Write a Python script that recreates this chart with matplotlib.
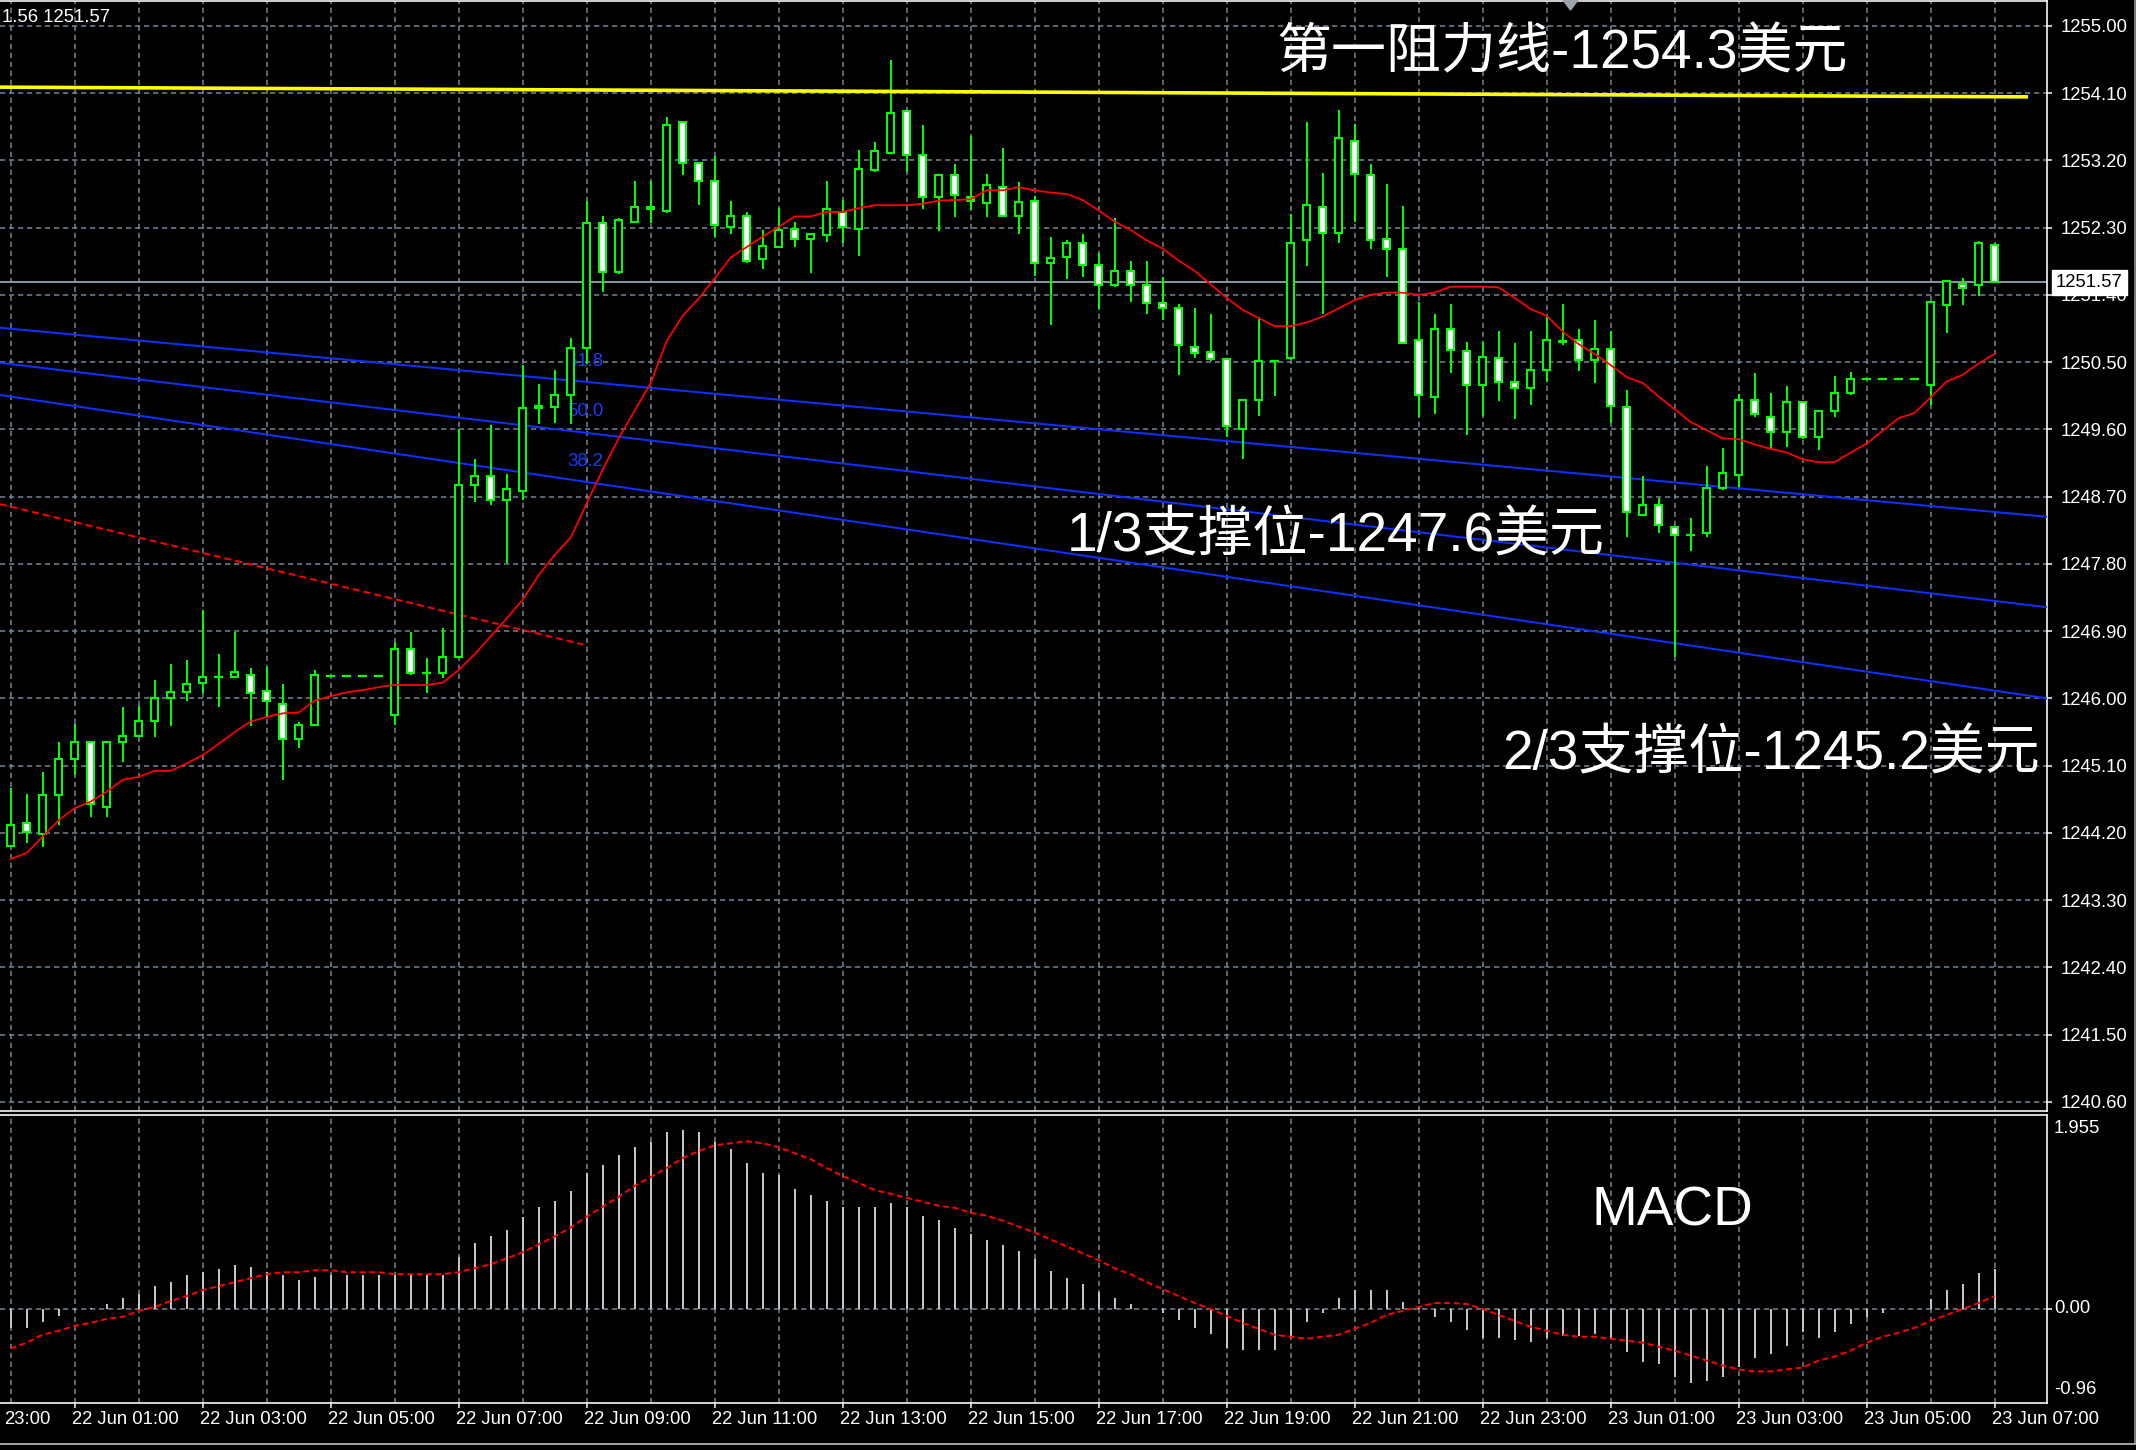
import numpy as np
import pandas as pd
import matplotlib
matplotlib.use("Agg")
import matplotlib.pyplot as plt
from matplotlib.patches import Rectangle, Polygon
from matplotlib.lines import Line2D

W, H, DPI = 2136, 1450, 100


def pt(p):
    """pixels -> points"""
    return p * 72.0 / DPI


plt.rcParams['font.family'] = ['Liberation Sans', 'Noto Sans CJK SC']

# ---------------- XAUUSD M15 bars ----------------
first_bar = "2017-06-22 00:00"

opens = [1244.03, 1244.33, 1244.19, 1244.71, 1245.19, 1245.41, 1244.55, 1245.41, 1245.50, 1245.70,
         1246.00, 1246.08, 1246.20, 1246.29, 1246.28, 1246.31, 1246.10, 1245.93, 1245.45, 1245.64,
         1246.30, 1246.30, 1246.30, 1246.30, 1245.78, 1246.66, 1246.34, 1246.34, 1246.55, 1248.86,
         1248.97, 1248.65, 1248.77, 1249.89, 1249.90, 1250.06, 1250.69, 1252.36, 1251.71, 1252.37,
         1252.55, 1252.52, 1253.71, 1253.17, 1252.92, 1252.31, 1252.45, 1251.88, 1252.04, 1252.28,
         1252.15, 1252.20, 1252.51, 1252.28, 1253.07, 1253.30, 1253.86, 1253.27, 1252.71, 1253.00,
         1252.71, 1252.63, 1252.84, 1252.45, 1252.66, 1251.83, 1251.91, 1252.10, 1251.80, 1251.53,
         1251.72, 1251.53, 1251.29, 1251.22, 1250.70, 1250.63, 1250.54, 1249.61, 1249.99, 1250.52,
         1250.55, 1252.13, 1252.58, 1252.23, 1253.46, 1253.00, 1252.15, 1252.02, 1250.79, 1250.04,
         1250.95, 1250.65, 1250.19, 1250.55, 1250.23, 1250.15, 1250.40, 1250.78, 1250.80, 1250.53,
         1250.68, 1249.90, 1248.45, 1248.59, 1248.30, 1248.19, 1248.21, 1248.81, 1248.99, 1249.99,
         1249.77, 1249.56, 1249.96, 1249.50, 1249.85, 1250.09, 1250.28, 1250.28, 1250.28, 1250.28,
         1250.19, 1251.27, 1251.54, 1251.53, 1252.07]

highs = [1244.80, 1244.72, 1245.01, 1245.41, 1245.66, 1245.43, 1245.41, 1245.88, 1245.90, 1246.25,
         1246.46, 1246.51, 1247.18, 1246.59, 1246.89, 1246.40, 1246.42, 1246.19, 1245.69, 1246.38,
         1246.30, 1246.30, 1246.30, 1246.30, 1246.76, 1246.89, 1246.54, 1246.94, 1249.61, 1249.21,
         1249.66, 1249.00, 1250.46, 1250.21, 1250.40, 1250.82, 1252.65, 1252.46, 1252.43, 1252.92,
         1252.93, 1253.78, 1253.72, 1253.18, 1253.26, 1252.65, 1252.51, 1252.27, 1252.56, 1252.38,
         1252.21, 1252.92, 1252.67, 1253.34, 1253.44, 1254.54, 1253.86, 1253.68, 1253.00, 1253.15,
         1253.53, 1253.02, 1253.36, 1252.91, 1252.72, 1252.18, 1252.13, 1252.21, 1251.96, 1252.43,
         1251.86, 1251.86, 1251.64, 1251.28, 1251.22, 1251.14, 1250.55, 1249.99, 1251.11, 1250.53,
         1252.48, 1253.71, 1253.03, 1253.88, 1253.69, 1253.15, 1252.88, 1252.59, 1251.31, 1251.15,
         1251.28, 1250.77, 1250.77, 1250.91, 1250.75, 1250.91, 1251.13, 1251.28, 1250.95, 1251.07,
         1250.91, 1250.13, 1248.97, 1248.68, 1248.31, 1248.41, 1249.11, 1249.35, 1250.07, 1250.36,
         1250.09, 1250.18, 1249.97, 1249.85, 1250.31, 1250.37, 1250.28, 1250.28, 1250.28, 1250.28,
         1251.30, 1251.59, 1251.62, 1252.12, 1252.09]

lows = [1244.01, 1244.06, 1244.01, 1244.31, 1244.97, 1244.41, 1244.41, 1245.15, 1245.48, 1245.48,
        1245.63, 1245.96, 1246.07, 1245.88, 1246.28, 1245.63, 1245.75, 1244.91, 1245.34, 1245.63,
        1246.30, 1246.30, 1246.30, 1246.30, 1245.64, 1246.31, 1246.07, 1246.27, 1246.55, 1248.63,
        1248.59, 1247.81, 1248.66, 1249.67, 1249.68, 1249.67, 1250.48, 1251.44, 1251.68, 1252.36,
        1252.36, 1252.49, 1253.00, 1252.60, 1252.17, 1252.22, 1251.82, 1251.74, 1252.04, 1252.04,
        1251.69, 1252.11, 1252.09, 1251.92, 1253.05, 1253.30, 1253.04, 1252.55, 1252.25, 1252.44,
        1252.53, 1252.44, 1252.44, 1252.22, 1251.65, 1251.00, 1251.61, 1251.64, 1251.21, 1251.51,
        1251.31, 1251.15, 1251.07, 1250.33, 1250.56, 1250.51, 1249.50, 1249.20, 1249.78, 1250.05,
        1250.53, 1251.79, 1251.14, 1252.09, 1252.38, 1252.01, 1251.64, 1250.75, 1249.77, 1249.81,
        1250.35, 1249.52, 1249.78, 1249.98, 1249.74, 1249.93, 1250.24, 1250.73, 1250.38, 1250.22,
        1249.68, 1248.16, 1248.45, 1248.21, 1246.55, 1247.97, 1248.16, 1248.79, 1248.83, 1249.77,
        1249.32, 1249.36, 1249.47, 1249.32, 1249.77, 1250.06, 1250.28, 1250.28, 1250.28, 1250.28,
        1249.93, 1250.89, 1251.27, 1251.39, 1251.57]

closes = [1244.31, 1244.21, 1244.71, 1245.19, 1245.41, 1244.59, 1245.41, 1245.49, 1245.70, 1246.00,
          1246.08, 1246.19, 1246.29, 1246.29, 1246.35, 1246.07, 1245.97, 1245.45, 1245.64, 1246.31,
          1246.30, 1246.30, 1246.30, 1246.30, 1246.66, 1246.34, 1246.34, 1246.56, 1248.86, 1248.97,
          1248.65, 1248.80, 1249.88, 1249.91, 1250.06, 1250.69, 1252.36, 1251.70, 1252.40, 1252.58,
          1252.57, 1253.68, 1253.16, 1252.92, 1252.34, 1252.45, 1251.85, 1252.05, 1252.27, 1252.15,
          1252.21, 1252.55, 1252.31, 1253.08, 1253.33, 1253.84, 1253.27, 1252.71, 1253.00, 1252.74,
          1252.66, 1252.87, 1252.45, 1252.64, 1251.83, 1251.90, 1252.10, 1251.80, 1251.53, 1251.72,
          1251.53, 1251.29, 1251.22, 1250.73, 1250.62, 1250.54, 1249.64, 1249.99, 1250.52, 1250.52,
          1252.10, 1252.60, 1252.23, 1253.50, 1253.02, 1252.13, 1252.02, 1250.76, 1250.06, 1250.95,
          1250.66, 1250.19, 1250.57, 1250.23, 1250.15, 1250.40, 1250.80, 1250.77, 1250.53, 1250.68,
          1249.91, 1248.49, 1248.59, 1248.32, 1248.19, 1248.19, 1248.81, 1249.02, 1249.99, 1249.81,
          1249.56, 1249.96, 1249.50, 1249.85, 1250.09, 1250.28, 1250.28, 1250.28, 1250.28, 1250.28,
          1251.30, 1251.59, 1251.49, 1252.09, 1251.57]

# moving average (red line on the price panel)
ma_line = [1243.85, 1243.93, 1244.15, 1244.37, 1244.53, 1244.62, 1244.75, 1244.91, 1244.95, 1245.03,
           1245.03, 1245.13, 1245.24, 1245.39, 1245.55, 1245.69, 1245.75, 1245.80, 1245.81, 1245.97,
           1246.03, 1246.08, 1246.11, 1246.15, 1246.18, 1246.18, 1246.18, 1246.21, 1246.38, 1246.59,
           1246.83, 1247.07, 1247.32, 1247.65, 1247.92, 1248.15, 1248.61, 1249.06, 1249.48, 1249.85,
           1250.22, 1250.78, 1251.12, 1251.35, 1251.62, 1251.90, 1252.04, 1252.18, 1252.31, 1252.45,
           1252.45, 1252.51, 1252.51, 1252.56, 1252.60, 1252.60, 1252.60, 1252.62, 1252.66, 1252.67,
           1252.68, 1252.80, 1252.80, 1252.84, 1252.80, 1252.77, 1252.75, 1252.67, 1252.53, 1252.38,
           1252.27, 1252.13, 1252.02, 1251.86, 1251.72, 1251.54, 1251.36, 1251.20, 1251.09, 1250.98,
           1250.98, 1251.03, 1251.11, 1251.22, 1251.33, 1251.40, 1251.43, 1251.43, 1251.40, 1251.43,
           1251.51, 1251.51, 1251.51, 1251.50, 1251.36, 1251.21, 1251.12, 1250.91, 1250.74, 1250.61,
           1250.46, 1250.30, 1250.22, 1250.04, 1249.87, 1249.70, 1249.59, 1249.48, 1249.47, 1249.40,
           1249.34, 1249.29, 1249.20, 1249.16, 1249.16, 1249.29, 1249.41, 1249.58, 1249.75, 1249.82,
           1250.03, 1250.24, 1250.33, 1250.48, 1250.61]

# MACD main (histogram) and signal
macd_main = [-0.19, -0.19, -0.13, -0.07, -0.01, 0.01, 0.05, 0.11, 0.15, 0.23,
             0.27, 0.34, 0.37, 0.40, 0.44, 0.42, 0.37, 0.34, 0.29, 0.32,
             0.34, 0.34, 0.34, 0.34, 0.34, 0.34, 0.34, 0.34, 0.52, 0.66,
             0.74, 0.80, 0.93, 1.03, 1.09, 1.19, 1.37, 1.45, 1.55, 1.63,
             1.68, 1.78, 1.80, 1.78, 1.68, 1.61, 1.47, 1.37, 1.35, 1.21,
             1.15, 1.09, 1.03, 1.03, 1.03, 1.07, 1.03, 0.94, 0.90, 0.82,
             0.76, 0.70, 0.64, 0.58, 0.50, 0.38, 0.31, 0.25, 0.17, 0.11,
             0.05, 0.00, -0.04, -0.11, -0.19, -0.25, -0.39, -0.41, -0.41, -0.41,
             -0.29, -0.13, -0.04, 0.11, 0.19, 0.19, 0.19, 0.07, 0.02, -0.08,
             -0.13, -0.21, -0.29, -0.29, -0.31, -0.33, -0.29, -0.27, -0.27, -0.25,
             -0.29, -0.43, -0.53, -0.55, -0.69, -0.75, -0.73, -0.69, -0.59, -0.49,
             -0.45, -0.37, -0.23, -0.29, -0.23, -0.15, -0.08, -0.04, 0.00, 0.00,
             0.10, 0.19, 0.25, 0.36, 0.40]

macd_signal = [-0.40, -0.34, -0.26, -0.22, -0.17, -0.14, -0.10, -0.08, -0.02, 0.02,
               0.08, 0.13, 0.19, 0.23, 0.27, 0.31, 0.35, 0.37, 0.37, 0.39,
               0.39, 0.37, 0.37, 0.37, 0.35, 0.35, 0.35, 0.35, 0.37, 0.41,
               0.45, 0.51, 0.57, 0.65, 0.73, 0.82, 0.93, 1.03, 1.13, 1.24,
               1.33, 1.42, 1.52, 1.59, 1.65, 1.67, 1.69, 1.67, 1.63, 1.57,
               1.51, 1.42, 1.34, 1.27, 1.20, 1.16, 1.12, 1.08, 1.04, 1.02,
               0.97, 0.94, 0.89, 0.83, 0.77, 0.70, 0.63, 0.56, 0.49, 0.41,
               0.35, 0.27, 0.20, 0.13, 0.06, 0.00, -0.07, -0.14, -0.20, -0.26,
               -0.28, -0.30, -0.28, -0.26, -0.20, -0.14, -0.06, -0.02, 0.02, 0.06,
               0.06, 0.05, 0.00, -0.06, -0.12, -0.18, -0.22, -0.26, -0.28, -0.28,
               -0.30, -0.32, -0.34, -0.38, -0.42, -0.47, -0.52, -0.57, -0.61, -0.63,
               -0.63, -0.61, -0.59, -0.52, -0.48, -0.42, -0.34, -0.28, -0.24, -0.19,
               -0.12, -0.06, 0.00, 0.06, 0.13]

# axis labels
time_labels = ["21 Jun 23:00", "22 Jun 01:00", "22 Jun 03:00", "22 Jun 05:00", "22 Jun 07:00",
               "22 Jun 09:00", "22 Jun 11:00", "22 Jun 13:00", "22 Jun 15:00", "22 Jun 17:00",
               "22 Jun 19:00", "22 Jun 21:00", "22 Jun 23:00", "23 Jun 01:00", "23 Jun 03:00",
               "23 Jun 05:00", "23 Jun 07:00"]
price_labels = ["1255.00", "1254.10", "1253.20", "1252.30", "1251.40", "1250.50", "1249.60",
                "1248.70", "1247.80", "1246.90", "1246.00", "1245.10", "1244.20", "1243.30",
                "1242.40", "1241.50", "1240.60"]
macd_labels = ["1.955", "0.00", "-0.96"]
last_price = 1251.57
header_text = "1.56 1251.57"

# drawn objects: (bar index, price) end points
resistance_x = [-0.67, 126.08]
resistance_y = [1254.18, 1254.05]
fan_x = [-0.67, 127.27]
fan_names = ["61.8", "50.0", "38.2"]
fan_start = [1250.96, 1250.49, 1250.06]
fan_end = [1248.43, 1247.22, 1246.00]
fan_label_x = 34.8
fan_label_y = [1250.51, 1249.84, 1249.17]
base_x = [-0.67, 35.8]
base_y = [1248.60, 1246.72]

notes = ["第一阻力线-1254.3美元", "1/3支撑位-1247.6美元", "2/3支撑位-1245.2美元"]
note_x = [79.1, 66.0, 93.2]
note_y = [1254.62, 1248.15, 1245.23]
macd_title = "MACD"
macd_title_pos = (98.8, 0.98)

# ---------------- figure ----------------
BG = "black"
GRID = "#778899"
GREEN = "#00ff00"
RED = "#ff0000"
BLUE = "#1030ff"
HIST = "#c4c4c4"
TXT = 18.5  # px

bar_times = pd.date_range(first_bar, periods=len(opens), freq="15min")
idx = np.arange(len(opens))
step = pd.Timedelta("15min")


def t2x(ts):
    return (ts - bar_times[0]) / step


hour_x = idx[bar_times.minute == 0]
label_times = pd.to_datetime(["2017 " + s for s in time_labels], format="%Y %d %b %H:%M")
label_x = np.array([t2x(t) for t in label_times])

X0, X1 = -0.669, 127.27
main_ylim = (1240.478, 1255.333)
macd_ylim = (-0.948, 1.955)

fig = plt.figure(figsize=(W / DPI, H / DPI), dpi=DPI, facecolor=BG)


def panel(top, bottom, right=2047):
    return [0, 1 - bottom / H, right / W, (bottom - top) / H]


ax = fig.add_axes(panel(1, 1111))
mx = fig.add_axes(panel(1115, 1403))

grid_dash = (0, (3.5, 2.5))
for a, yl in ((ax, main_ylim), (mx, macd_ylim)):
    a.set_facecolor(BG)
    a.set_xlim(X0, X1)
    a.set_ylim(*yl)
    a.spines['left'].set_visible(False)
    for s in ('top', 'bottom', 'right'):
        a.spines[s].set_color('white')
        a.spines[s].set_linewidth(pt(1.6))
    for x in hour_x:
        a.axvline(x, color=GRID, lw=pt(1.5), ls=grid_dash, zorder=1)

for s in price_labels:
    ax.axhline(float(s), color=GRID, lw=pt(1.5), ls=grid_dash, zorder=1)
mx.axhline(0.0, color=GRID, lw=pt(1.5), ls=grid_dash, zorder=1)

# price axis on the right
ax.yaxis.tick_right()
ax.set_yticks([float(s) for s in price_labels])
ax.set_yticklabels(price_labels)
ax.tick_params(axis='y', colors='white', length=pt(5), width=pt(1.5), pad=pt(9),
               labelsize=pt(TXT))
ax.set_xticks([])

# current price line + box
ax.axhline(last_price, color="#8593a1", lw=pt(2), zorder=2)
ax.annotate(f"{last_price:.2f}", xy=(1, last_price), xycoords=('axes fraction', 'data'),
            xytext=(pt(9), 0), textcoords='offset points', ha='left', va='center',
            color='black', fontsize=pt(TXT),
            bbox=dict(boxstyle='square,pad=0.22', fc='white', ec='white'),
            zorder=20, annotation_clip=False)

# fan lines and base line
for name, y0, y1, ly in zip(fan_names, fan_start, fan_end, fan_label_y):
    ax.plot(fan_x, [y0, y1], color=BLUE, lw=pt(2), zorder=3, solid_capstyle='butt')
    ax.text(fan_label_x, ly, name, color="#1a3cff", fontsize=pt(TXT), ha='left',
            va='center', zorder=3)
ax.plot(base_x, base_y, color=RED, lw=pt(2), ls=(0, (3.5, 2)), zorder=3)

# candles
BW = 0.4625
for i in idx:
    o, h_, l_, c = opens[i], highs[i], lows[i], closes[i]
    if h_ > l_:
        ax.vlines(i, l_, h_, color=GREEN, lw=pt(2), zorder=4)
    if abs(c - o) < 0.005:
        ax.hlines(o, i - BW / 2 - 0.06, i + BW / 2 + 0.06, color=GREEN, lw=pt(2.2), zorder=5)
    else:
        face = 'black' if c > o else 'white'
        ax.add_patch(Rectangle((i - BW / 2, min(o, c)), BW, abs(c - o), facecolor=face,
                               edgecolor=GREEN, lw=pt(2), zorder=5))

# moving average
ax.plot(idx, ma_line, color=RED, lw=pt(1.8), zorder=6)

# resistance line
ax.plot(resistance_x, resistance_y, color="#ffff00", lw=pt(3.6), zorder=7, solid_capstyle='butt')

# annotations
for txt, x, y in zip(notes, note_x, note_y):
    ax.text(x, y, txt, color='white', fontsize=pt(55), ha='left', va='center', zorder=10)

# MACD panel
mx.vlines(idx, 0, macd_main, color=HIST, lw=pt(2), zorder=3)
mx.plot(idx, macd_signal, color=RED, lw=pt(2), ls=(0, (3, 1.75)), zorder=4)
mx.text(macd_title_pos[0], macd_title_pos[1], macd_title, color='white', fontsize=pt(55),
        ha='left', va='center', zorder=10)
mx.yaxis.tick_right()
mx.set_yticks([0.0])
mx.set_yticklabels([''])
mx.tick_params(axis='y', colors='white', length=pt(5), width=pt(1.5))
mac_vals = [float(s) for s in macd_labels]
mac_off = [-13.5, 0, 14.5]
for s, v, off in zip(macd_labels, mac_vals, mac_off):
    mx.annotate(s, xy=(1, v), xycoords=('axes fraction', 'data'),
                xytext=(pt(7), pt(off)), textcoords='offset points', ha='left', va='center',
                color='white', fontsize=pt(TXT), annotation_clip=False)

# time axis
in_view = label_x[(label_x >= X0) & (label_x <= X1)]
mx.set_xticks(in_view)
mx.set_xticklabels([''] * len(in_view))
mx.tick_params(axis='x', colors='white', length=pt(5), width=pt(1.5))
for s, x in zip(time_labels, label_x):
    if x < X0:
        # label whose date part falls off the left edge: only its time shows
        mx.annotate(s.split()[-1], xy=(0, 0), xycoords='axes fraction',
                    xytext=(pt(4), pt(-17)), textcoords='offset points', ha='left',
                    va='center', color='white', fontsize=pt(TXT), annotation_clip=False)
        continue
    mx.annotate(s, xy=(x, 0), xycoords=('data', 'axes fraction'),
                xytext=(pt(-3), pt(-17)), textcoords='offset points', ha='left', va='center',
                color='white', fontsize=pt(TXT), annotation_clip=False)

# header text and window frame
fig.text(2 / W, 1 - 17 / H, header_text, color='white', fontsize=pt(TXT), ha='left', va='center')
fig.add_artist(Polygon([[1563 / W, 1.0], [1578 / W, 1.0], [1570.5 / W, 1 - 10 / H]],
                       closed=True, transform=fig.transFigure, color="#9aa2ab"))
fig.add_artist(Line2D([0, 1], [1 - 1444 / H] * 2, transform=fig.transFigure,
                      color="#a0a0a0", lw=pt(2)))
fig.add_artist(Line2D([2134.5 / W] * 2, [1, 1 - 1444 / H], transform=fig.transFigure,
                      color="#a0a0a0", lw=pt(1.5)))

fig.savefig("out.png", dpi=DPI, facecolor=BG)
